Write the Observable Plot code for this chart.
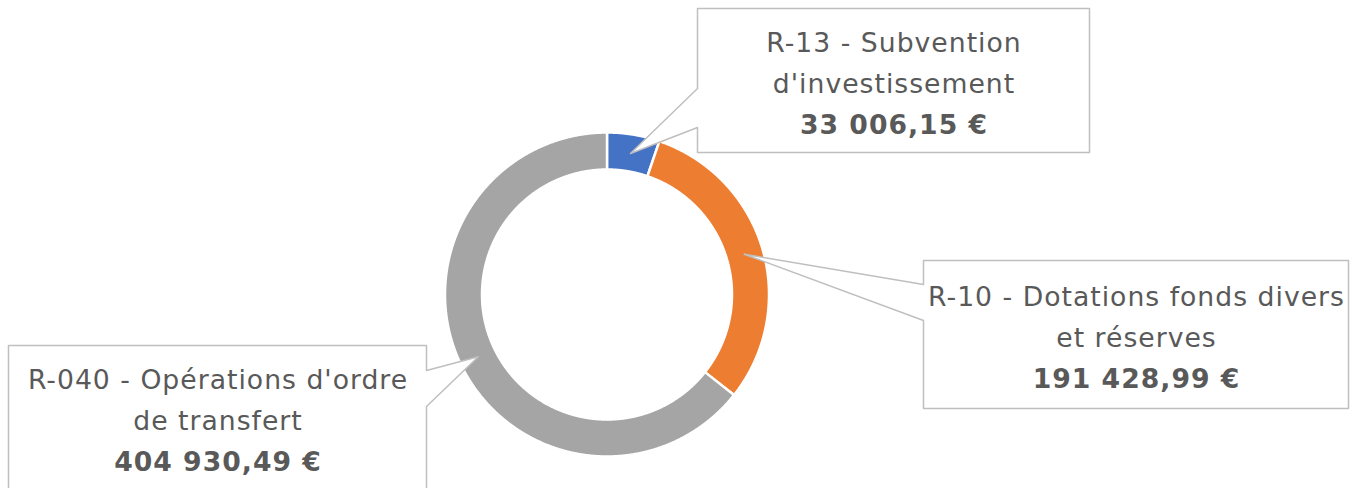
<!DOCTYPE html>
<html><head><meta charset="utf-8">
<script src="https://cdn.jsdelivr.net/npm/d3@7"></script>
<script src="https://cdn.jsdelivr.net/npm/@observablehq/plot@0.6"></script>
<style>html,body{margin:0;padding:0;background:#fff;overflow:hidden}
svg text{letter-spacing:1px}</style>
</head><body><div id="chart"></div>
<script>
// ---- data ----
const categories = ["R-13 - Subvention d'investissement", "R-10 - Dotations fonds divers et réserves", "R-040 - Opérations d'ordre de transfert"];
const values = [33006.15, 191428.99, 404930.49];
const nameLines = [["R-13 - Subvention", "d'investissement"], ["R-10 - Dotations fonds divers", "et réserves"], ["R-040 - Opérations d'ordre", "de transfert"]];
const valueLabels = ["33 006,15 €", "191 428,99 €", "404 930,49 €"];
const colors = ["#4472C4", "#ED7D31", "#A5A5A5"];

// ---- layout ----
const W = 1353, H = 488;
const cx = 606.5, cy = 294, rOuter = 162, rInner = 125, rTip = 143;
const boxes = [
  {x0: 697, y0: 8,   x1: 1089, y1: 152, side: "left",  a: 88,  b: 127, base: 51},
  {x0: 923, y0: 260, x1: 1348, y1: 408, side: "left",  a: 284, b: 320, base: 305},
  {x0: 8,   y0: 345, x1: 426,  y1: 520, side: "right", a: 370, b: 406, base: 388}
];
const lineStep = 41, fontSize = 26.67;

const arcs = d3.pie().sort(null).value(d => d)(values);

// slice polygons
const slicePts = [];
arcs.forEach((p, i) => {
  const n = Math.max(8, Math.ceil((p.endAngle - p.startAngle) / 0.004));
  for (let k = 0; k <= n; k++) {
    const a = p.startAngle + (p.endAngle - p.startAngle) * k / n;
    slicePts.push({cat: categories[i], x: cx + rOuter * Math.sin(a), y: cy - rOuter * Math.cos(a)});
  }
  for (let k = n; k >= 0; k--) {
    const a = p.startAngle + (p.endAngle - p.startAngle) * k / n;
    slicePts.push({cat: categories[i], x: cx + rInner * Math.sin(a), y: cy - rInner * Math.cos(a)});
  }
});

// callout outlines with pointer tip at slice mid-angle
const calloutPts = [];
const textRows = [], valueRows = [];
arcs.forEach((p, i) => {
  const b = boxes[i];
  const mid = (p.startAngle + p.endAngle) / 2;
  const tip = {x: cx + rTip * Math.sin(mid), y: cy - rTip * Math.cos(mid)};
  let pts;
  if (b.side === "left") {
    pts = [[b.x0, b.y0], [b.x1, b.y0], [b.x1, b.y1], [b.x0, b.y1], [b.x0, b.b], [tip.x, tip.y], [b.x0, b.a]];
  } else {
    pts = [[b.x0, b.y0], [b.x1, b.y0], [b.x1, b.a], [tip.x, tip.y], [b.x1, b.b], [b.x1, b.y1], [b.x0, b.y1]];
  }
  pts.forEach(([x, y]) => calloutPts.push({id: i, x, y}));
  const xc = (b.x0 + b.x1) / 2 + 0.5;
  nameLines[i].forEach((t, j) => textRows.push({x: xc, y: b.base + j * lineStep - 0.32 * fontSize, t}));
  valueRows.push({x: xc, y: b.base + nameLines[i].length * lineStep - 0.32 * fontSize, t: valueLabels[i]});
});

const chart = Plot.plot({
  width: W, height: H, margin: 0,
  x: {domain: [0, W], range: [0, W], axis: null},
  y: {domain: [0, H], range: [0, H], axis: null},
  color: {domain: categories, range: colors},
  style: {fontFamily: "DejaVu Sans", background: "white"},
  marks: [
    Plot.line(slicePts, {x: "x", y: "y", z: "cat", fill: "cat", stroke: "white", strokeWidth: 2.5, curve: "linear-closed"}),
    Plot.line(calloutPts, {x: "x", y: "y", z: "id", fill: "white", stroke: "#BFBFBF", strokeWidth: 1.5, curve: "linear-closed", clip: true}),
    Plot.text(textRows, {x: "x", y: "y", text: "t", fill: "#595959", fontSize: fontSize, textAnchor: "middle", lineAnchor: "middle"}),
    Plot.text(valueRows, {x: "x", y: "y", text: "t", fill: "#595959", fontSize: fontSize, fontWeight: "bold", textAnchor: "middle", lineAnchor: "middle"})
  ]
});
document.getElementById("chart").appendChild(chart);
</script>
</body></html>
